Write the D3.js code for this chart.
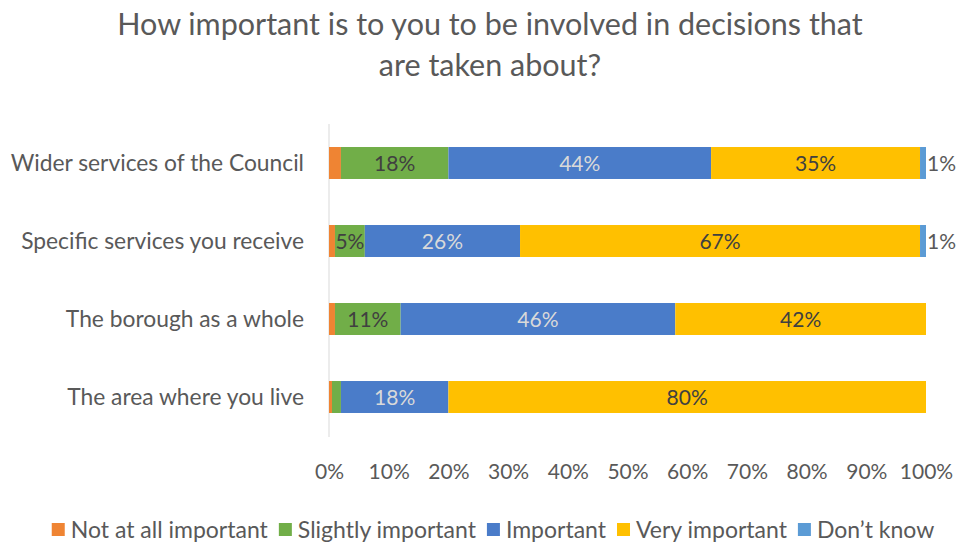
<!DOCTYPE html>
<html><head><meta charset="utf-8">
<script src="https://cdn.jsdelivr.net/npm/d3@7"></script>
<style>body{margin:0;background:#fff}svg{display:block}</style>
</head><body>
<svg id="c" width="960" height="542"></svg>
<script>
const categories = ["Wider services of the Council","Specific services you receive","The borough as a whole","The area where you live"];
const seriesNames = ["Not at all important","Slightly important","Important","Very important","Don\u2019t know"];
const notAtAll   = [2, 1, 1, 0.5];
const slightly   = [18, 5, 11, 1.5];
const important  = [44, 26, 46, 18];
const veryImp    = [35, 67, 42, 80];
const dontKnow   = [1, 1, 0, 0];
const xTicks = [0,10,20,30,40,50,60,70,80,90,100];
const colors = ["#EF8433","#71AE48","#4A7CC9","#FFC000","#5B9BD5"];
const labelColors = [null,"#404040","#D9D9D9","#404040","#595959"];
const FONT = "Lato, 'Open Sans', sans-serif";

const svg = d3.select("#c");
const series = [notAtAll, slightly, important, veryImp, dontKnow];
const x = d3.scaleLinear().domain([0,100]).range([329,926]);
const y = d3.scaleBand().domain(categories).range([124,436]).paddingInner(0.59).paddingOuter(0.295);

// title
svg.append("text").attr("x",490).attr("y",35).attr("text-anchor","middle")
  .attr("font-family",FONT).attr("font-size",30.5).attr("fill","#595959")
  .text("How important is to you to be involved in decisions that");
svg.append("text").attr("x",490).attr("y",76).attr("text-anchor","middle")
  .attr("font-family",FONT).attr("font-size",30.5).attr("fill","#595959")
  .text("are taken about?");

// y axis line
svg.append("line").attr("x1",x(0)).attr("x2",x(0)).attr("y1",124).attr("y2",437)
  .attr("stroke","#D9D9D9").attr("stroke-width",1);

const stackData = categories.map((c,i)=>{
  let acc=0; return series.map((s,k)=>{const v=s[i]; const o={k,cat:c,x0:acc,x1:acc+v,v}; acc+=v; return o;});
});
const g = svg.append("g");
stackData.forEach(row=>{
  row.forEach(d=>{
    if(d.v<=0) return;
    g.append("rect").attr("x",x(d.x0)).attr("width",x(d.x1)-x(d.x0))
      .attr("y",y(d.cat)).attr("height",y.bandwidth()).attr("fill",colors[d.k]);
    let show = (d.k>=1 && d.k<=3 && d.v>=5) || (d.k===4);
    if(!show) return;
    const lx = d.k===4 ? x(d.x1)+1 : (x(d.x0)+x(d.x1))/2;
    g.append("text").attr("x",lx).attr("y",y(d.cat)+y.bandwidth()/2+7.5)
      .attr("text-anchor",d.k===4?"start":"middle")
      .attr("font-family",FONT).attr("font-size",21).attr("fill",labelColors[d.k])
      .text(Math.round(d.v)+"%");
  });
});

// category labels
svg.selectAll(".cat").data(categories).enter().append("text")
  .attr("x",304).attr("y",d=>y(d)+y.bandwidth()/2+8).attr("text-anchor","end")
  .attr("font-family",FONT).attr("font-size",22.8).attr("fill","#595959").text(d=>d);

// x ticks
const xa = svg.append("g").attr("transform","translate(0,452)")
  .call(d3.axisBottom(x).tickValues(xTicks).tickFormat(d=>d+"%").tickSize(0).tickPadding(12));
xa.select(".domain").remove();
xa.selectAll("text").attr("font-family",FONT).attr("font-size",21).attr("fill","#595959");

// legend
const leg = svg.append("g");
let lxPos = 0;
seriesNames.forEach((n,k)=>{
  const it = leg.append("g");
  it.append("rect").attr("x",0).attr("y",-15).attr("width",13).attr("height",13).attr("fill",colors[k]);
  const t = it.append("text").attr("x",19).attr("y",0).attr("font-family",FONT).attr("font-size",23).attr("fill","#595959").text(n);
  const w = t.node().getComputedTextLength();
  it.attr("transform",`translate(${lxPos},0)`);
  lxPos += 19 + w + 11;
});
lxPos -= 11;
leg.attr("transform",`translate(${493 - lxPos/2},538)`);
</script>
</body></html>
